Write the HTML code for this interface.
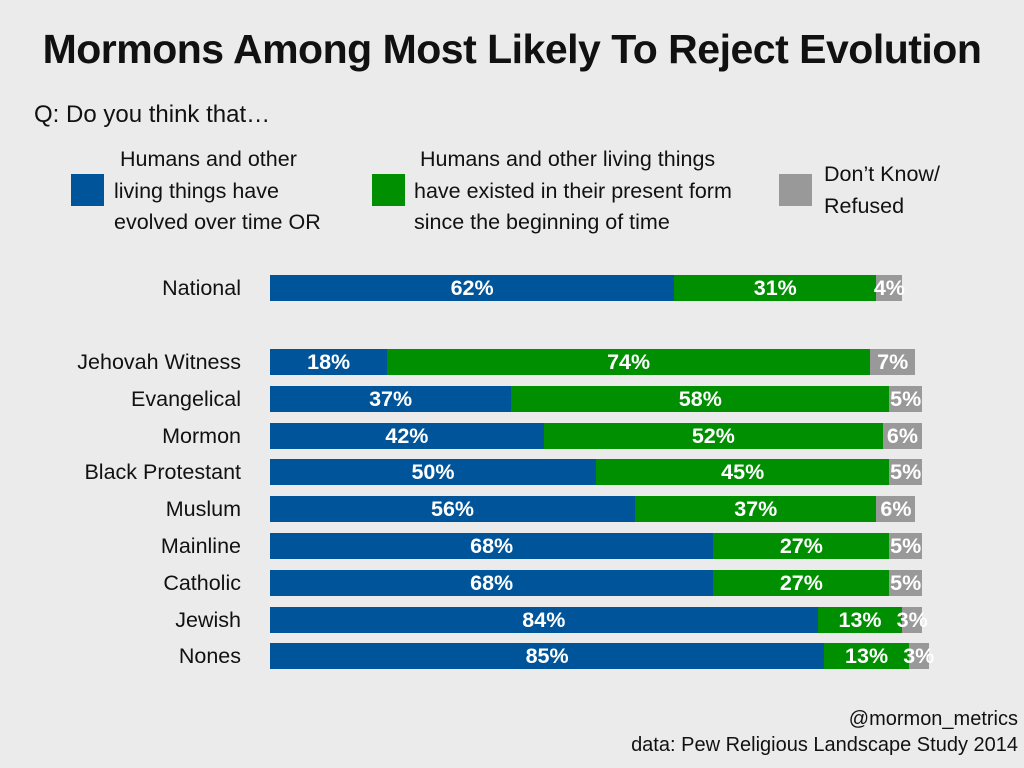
<!DOCTYPE html>
<html><head><meta charset="utf-8">
<style>
body{margin:0;width:1024px;height:768px;background:#ebebeb;font-family:"Liberation Sans","DejaVu Sans",sans-serif;overflow:hidden;position:relative;color:#111}
.abs{position:absolute}
#title{left:0;width:1024px;top:26px;text-align:center;font-size:41px;font-weight:bold;letter-spacing:-0.5px}
#q{left:34px;top:101px;font-size:24px}
.lt{font-size:21.5px;line-height:31.5px}
.sq{width:33px;height:32px}
.foot{right:6px;font-size:20px;text-align:right}
</style></head>
<body>
<div class="abs" id="title">Mormons Among Most Likely To Reject Evolution</div>
<div class="abs" id="q">Q: Do you think that…</div>
<div class="abs sq" style="left:71px;top:174px;background:#00559a"></div>
<div class="abs lt" style="left:114px;top:144px">&nbsp;Humans and other<br>living things have<br>evolved over time OR</div>
<div class="abs sq" style="left:372px;top:174px;background:#008f00"></div>
<div class="abs lt" style="left:414px;top:144px">&nbsp;Humans and other living things<br>have existed in their present form<br>since the beginning of time</div>
<div class="abs sq" style="left:779px;top:174px;background:#999"></div>
<div class="abs lt" style="left:824px;top:159px">Don’t Know/<br>Refused</div>
<div id="chart"></div>
<div class="abs foot" style="top:708px">@mormon_metrics</div>
<div class="abs foot" style="top:734px">data: Pew Religious Landscape Study 2014</div>
<script>
const categories=["National","Jehovah Witness","Evangelical","Mormon","Black Protestant","Muslum","Mainline","Catholic","Jewish","Nones"];
const evolved=[62,18,37,42,50,56,68,68,84,85];
const presentForm=[31,74,58,52,45,37,27,27,13,13];
const dontKnow=[4,7,5,6,5,6,5,5,3,3];
const x0=270, pxPer=6.52;
function xs(v){return v*pxPer;}
function yc(i){return i===0?288:362+(i-1)*36.8;}
const chart=document.getElementById('chart');
const colors=["#00559a","#008f00","#999999"];
const segNames=["evolved","present-form","dont-know"];
categories.forEach((c,i)=>{
  const lab=document.createElement('div');
  lab.className='abs';
  lab.style.cssText=`right:${1024-241}px;top:${yc(i)-12}px;font-size:21.5px;white-space:nowrap`;
  lab.textContent=c;
  
  
  chart.appendChild(lab);
  const vals=[evolved[i],presentForm[i],dontKnow[i]];
  let x=x0;
  vals.forEach((v,k)=>{
    const w=xs(v);
    const b=document.createElement('div');
    b.className='abs';
    b.style.cssText=`left:${x}px;top:${yc(i)-13}px;width:${w}px;height:26px;background:${colors[k]}`;
    
    
    chart.appendChild(b);
    const t=document.createElement('div');
    t.className='abs';
    t.style.cssText=`left:${x+w/2-40}px;width:80px;text-align:center;top:${yc(i)-13}px;line-height:26px;font-size:21.5px;font-weight:bold;color:#fff;white-space:nowrap`;
    t.textContent=v+'%';
    
    
    chart.appendChild(t);
    x+=w;
  });
});
</script>
</body></html>
